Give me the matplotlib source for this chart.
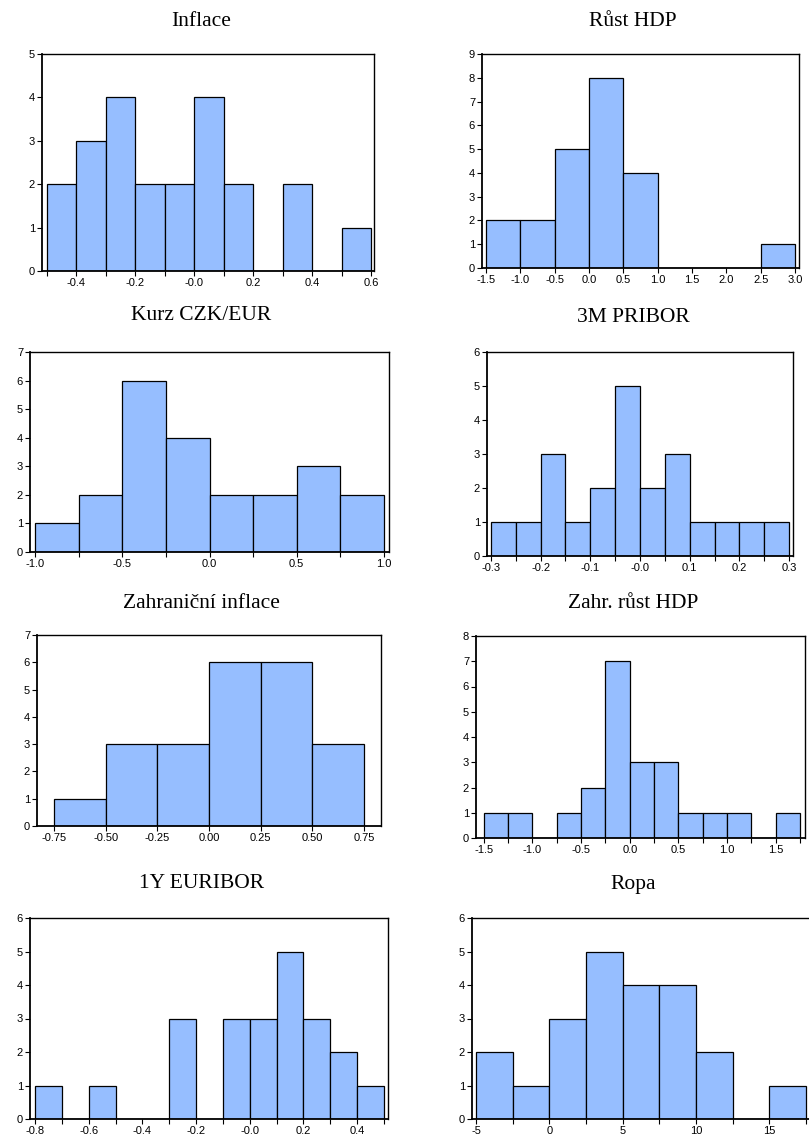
import numpy as np
import matplotlib
matplotlib.use("Agg")
import matplotlib.pyplot as plt
from matplotlib.ticker import FixedLocator

# histogram counts and bin edges for each series
inflace_edges = [-0.5, -0.4, -0.3, -0.2, -0.1, 0.0, 0.1, 0.2, 0.3, 0.4, 0.5, 0.6]
inflace_counts = [2, 3, 4, 2, 2, 4, 2, 0, 2, 0, 1]

hdp_edges = [-1.5, -1.0, -0.5, 0.0, 0.5, 1.0, 1.5, 2.0, 2.5, 3.0]
hdp_counts = [2, 2, 5, 8, 4, 0, 0, 0, 1]

kurz_edges = [-1.0, -0.75, -0.5, -0.25, 0.0, 0.25, 0.5, 0.75, 1.0]
kurz_counts = [1, 2, 6, 4, 2, 2, 3, 2]

pribor_edges = [-0.3, -0.25, -0.2, -0.15, -0.1, -0.05, 0.0, 0.05, 0.1, 0.15, 0.2, 0.25, 0.3]
pribor_counts = [1, 1, 3, 1, 2, 5, 2, 3, 1, 1, 1, 1]

zinfl_edges = [-0.75, -0.5, -0.25, 0.0, 0.25, 0.5, 0.75]
zinfl_counts = [1, 3, 3, 6, 6, 3]

zhdp_edges = [-1.5, -1.25, -1.0, -0.75, -0.5, -0.25, 0.0, 0.25, 0.5, 0.75, 1.0, 1.25, 1.5, 1.75]
zhdp_counts = [1, 1, 0, 1, 2, 7, 3, 3, 1, 1, 1, 0, 1]

euribor_edges = [-0.8, -0.7, -0.6, -0.5, -0.4, -0.3, -0.2, -0.1, 0.0, 0.1, 0.2, 0.3, 0.4, 0.5]
euribor_counts = [1, 0, 1, 0, 0, 3, 0, 3, 3, 5, 3, 2, 1]

ropa_edges = [-5, -2.5, 0, 2.5, 5, 7.5, 10, 12.5, 15, 17.5]
ropa_counts = [2, 1, 3, 5, 4, 4, 2, 0, 1]

titles = ["Inflace", "Růst HDP", "Kurz CZK/EUR", "3M PRIBOR",
          "Zahraniční inflace", "Zahr. růst HDP", "1Y EURIBOR", "Ropa"]

# tick labels
inflace_xt = [-0.4, -0.2, 0.0, 0.2, 0.4, 0.6]
inflace_xl = ["-0.4", "-0.2", "-0.0", "0.2", "0.4", "0.6"]
hdp_xt = [-1.5, -1.0, -0.5, 0.0, 0.5, 1.0, 1.5, 2.0, 2.5, 3.0]
hdp_xl = ["-1.5", "-1.0", "-0.5", "0.0", "0.5", "1.0", "1.5", "2.0", "2.5", "3.0"]
kurz_xt = [-1.0, -0.5, 0.0, 0.5, 1.0]
kurz_xl = ["-1.0", "-0.5", "0.0", "0.5", "1.0"]
pribor_xt = [-0.3, -0.2, -0.1, 0.0, 0.1, 0.2, 0.3]
pribor_xl = ["-0.3", "-0.2", "-0.1", "-0.0", "0.1", "0.2", "0.3"]
zinfl_xt = [-0.75, -0.5, -0.25, 0.0, 0.25, 0.5, 0.75]
zinfl_xl = ["-0.75", "-0.50", "-0.25", "0.00", "0.25", "0.50", "0.75"]
zhdp_xt = [-1.5, -1.0, -0.5, 0.0, 0.5, 1.0, 1.5]
zhdp_xl = ["-1.5", "-1.0", "-0.5", "0.0", "0.5", "1.0", "1.5"]
euribor_xt = [-0.8, -0.6, -0.4, -0.2, 0.0, 0.2, 0.4]
euribor_xl = ["-0.8", "-0.6", "-0.4", "-0.2", "-0.0", "0.2", "0.4"]
ropa_xt = [-5, 0, 5, 10, 15]
ropa_xl = ["-5", "0", "5", "10", "15"]

y_tops = [5, 9, 7, 6, 7, 8, 6, 6]

edges_all = [inflace_edges, hdp_edges, kurz_edges, pribor_edges,
             zinfl_edges, zhdp_edges, euribor_edges, ropa_edges]
counts_all = [inflace_counts, hdp_counts, kurz_counts, pribor_counts,
              zinfl_counts, zhdp_counts, euribor_counts, ropa_counts]
xticks_all = [inflace_xt, hdp_xt, kurz_xt, pribor_xt, zinfl_xt, zhdp_xt, euribor_xt, ropa_xt]
xlabels_all = [inflace_xl, hdp_xl, kurz_xl, pribor_xl, zinfl_xl, zhdp_xl, euribor_xl, ropa_xl]

# layout in pixels: (left, right, top, bottom), x-limits, title centre
W, H = 809, 1136
boxes = [(42, 374, 54, 271), (482, 799, 54, 268),
         (30, 389, 352, 552), (487, 793, 352, 556),
         (37, 381, 635, 826), (476, 805, 636, 838),
         (30, 388, 918, 1119), (472, 811, 918, 1119)]
xlims = [(-0.517, 0.610), (-1.558, 3.058), (-1.029, 1.029), (-0.308, 0.308),
         (-0.832, 0.832), (-1.58, 1.80), (-0.819, 0.515), (-5.27, 17.85)]
title_pos = [(201, 22), (633, 22), (201, 315), (633, 318),
             (201, 603), (633, 603), (202, 884), (633, 884)]

bar_color = "#96BEFF"

fig = plt.figure(figsize=(W / 100, H / 100), dpi=100)

for i in range(8):
    l, r, t, b = boxes[i]
    ax = fig.add_axes([l / W, 1 - b / H, (r - l) / W, (b - t) / H])
    edges = np.array(edges_all[i], dtype=float)
    ax.bar(edges[:-1], counts_all[i], width=np.diff(edges), align="edge",
           color=bar_color, edgecolor="black", linewidth=0.9)
    ax.set_xlim(*xlims[i])
    ax.set_ylim(0, y_tops[i])
    ax.set_yticks(range(0, y_tops[i] + 1))
    ax.set_yticklabels([str(v) for v in range(0, y_tops[i] + 1)])
    ax.set_xticks(xticks_all[i])
    ax.set_xticklabels(xlabels_all[i])
    ax.xaxis.set_minor_locator(FixedLocator(edges))
    ax.tick_params(axis="both", which="both", direction="out", length=3.5,
                   width=0.8, labelsize=8, pad=1.5, colors="black")
    for name, s in ax.spines.items():
        s.set_linewidth(1.3 if name in ("left", "bottom") else 1.0)
    for lab in ax.get_xticklabels() + ax.get_yticklabels():
        lab.set_family("Liberation Sans")
    fig.text(title_pos[i][0] / W, 1 - title_pos[i][1] / H, titles[i],
             ha="center", va="center", fontsize=15.5, family="Liberation Serif")

fig.savefig("out.png", dpi=100)
